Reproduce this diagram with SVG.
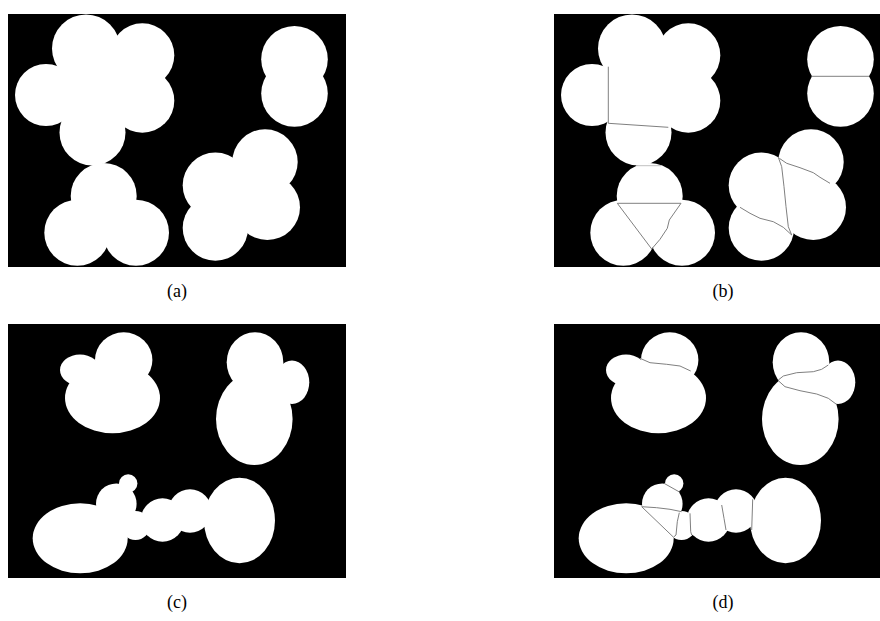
<svg xmlns="http://www.w3.org/2000/svg" xmlns:xlink="http://www.w3.org/1999/xlink" width="880" height="621" viewBox="0 0 880 621">
  <style>
    .bg { fill: #000000; }
    .blob { fill: #ffffff; }
    .seg { fill: none; stroke: #808080; stroke-width: 1; stroke-linejoin: round; }
    .seam { fill: none; stroke: #c0c0c0; stroke-width: 1; }
    .lbl { font-family: "Liberation Serif", "DejaVu Serif", serif; font-size: 18px; fill: #000000; text-anchor: middle; }
  </style>
  <defs>
    <g id="shapesAB" class="blob">
      <!-- upper-left cluster -->
      <circle cx="86" cy="48.5" r="34"/>
      <circle cx="142.3" cy="55.3" r="32"/>
      <circle cx="142.3" cy="100.7" r="32"/>
      <circle cx="100" cy="90" r="33"/>
      <circle cx="46" cy="95" r="31"/>
      <circle cx="92.5" cy="132.5" r="33"/>
      <!-- triangle cluster -->
      <circle cx="103.7" cy="196" r="33"/>
      <circle cx="77.3" cy="232.7" r="33"/>
      <circle cx="136" cy="232.7" r="33"/>
      <!-- right pair -->
      <circle cx="294.5" cy="59.3" r="33.3"/>
      <circle cx="294.5" cy="93.4" r="33.3"/>
      <!-- cross cluster -->
      <circle cx="265" cy="162" r="32.7"/>
      <circle cx="215.4" cy="185.3" r="32.7"/>
      <circle cx="267.3" cy="207.3" r="32.7"/>
      <circle cx="215.4" cy="228" r="32.7"/>
    </g>
    <g id="shapesCD" class="blob">
      <!-- top-left cluster -->
      <ellipse cx="112.5" cy="398" rx="47.5" ry="35.3"/>
      <ellipse cx="123.7" cy="360" rx="28.7" ry="27.7"/>
      <ellipse cx="80" cy="370" rx="20" ry="15.5"/>
      <!-- top-right cluster -->
      <ellipse cx="254.3" cy="419" rx="38.3" ry="46"/>
      <ellipse cx="255" cy="362.3" rx="28.3" ry="30"/>
      <ellipse cx="292" cy="382.3" rx="17.3" ry="21.7"/>
      <!-- bottom chain -->
      <ellipse cx="80.2" cy="538.3" rx="47.5" ry="35"/>
      <circle cx="116.3" cy="503.7" r="20.3"/>
      <circle cx="128.2" cy="483.5" r="9.2"/>
      <circle cx="135.5" cy="525.5" r="14.5"/>
      <circle cx="162.5" cy="520" r="21.7"/>
      <circle cx="190" cy="511" r="21.7"/>
      <ellipse cx="239.5" cy="520.5" rx="35.5" ry="42.8"/>
    </g>
  </defs>

  <rect x="0" y="0" width="880" height="621" fill="#ffffff"/>

  <g id="panel-a">
    <rect class="bg" x="8" y="14" width="338" height="253"/>
    <use xlink:href="#shapesAB"/>
    <text class="lbl" x="177" y="297">(a)</text>
  </g>

  <g id="panel-b">
    <rect class="bg" x="554" y="14" width="338" height="253"/>
    <use xlink:href="#shapesAB" transform="translate(546,0)"/>
    <g id="segments-b">
      <polyline class="seg" points="608.3,66.7 608.3,123.3 668.3,127.3"/>
      <line class="seam" x1="636" y1="165.7" x2="661" y2="165.7"/>
      <line class="seg" x1="811.5" y1="76.3" x2="869" y2="76.3"/>
      <polyline class="seg" points="617.3,203.3 681,203.3 669.3,220 667.3,228.3 660,239.3 651.7,249 617.3,203.3"/>
      <polyline class="seg" points="778.3,157.3 781.7,166.7 784,186.7 786,206.7 788.3,226.7 791.7,235"/>
      <polyline class="seg" points="779.3,158.3 786.7,163.3 800,167.7 813.3,172.7 820,177.3 830,183.3"/>
      <polyline class="seg" points="740,207.3 750,213.3 760,218.3 773.3,221.7 783.3,227.3 791.7,235"/>
    </g>
    <text class="lbl" x="723" y="297">(b)</text>
  </g>

  <g id="panel-c">
    <rect class="bg" x="8" y="324" width="338" height="254"/>
    <use xlink:href="#shapesCD"/>
    <text class="lbl" x="177" y="608">(c)</text>
  </g>

  <g id="panel-d">
    <rect class="bg" x="554" y="324" width="338" height="254"/>
    <use xlink:href="#shapesCD" transform="translate(546,0)"/>
    <g id="segments-d">
      <polyline class="seg" points="640,358.3 650,362.7 666.7,364.3 680,366 690.7,371"/>
      <polyline class="seg" points="778.3,380 783.3,376 796.7,372.7 813.3,371.7 821.7,369.3 828.3,365"/>
      <polyline class="seg" points="778.3,380.7 785,386.7 800,390.7 816.7,394 828.3,398.3 836,404"/>
      <line class="seg" x1="664" y1="483.3" x2="680" y2="492.3"/>
      <polyline class="seg" points="641.7,506.7 656.7,507.7 670,509.3 681.7,511.7"/>
      <line class="seg" x1="641.7" y1="506.7" x2="673.3" y2="537"/>
      <polyline class="seg" points="679.3,512.7 677.3,521.7 676,535 673.3,537.3"/>
      <polyline class="seg" points="690,513.3 690.7,531.7 691.7,535"/>
      <polyline class="seg" points="721.7,505 724,518.3 726,530"/>
      <polyline class="seg" points="752.7,499.3 751.7,530"/>
    </g>
    <text class="lbl" x="723" y="608">(d)</text>
  </g>
</svg>
